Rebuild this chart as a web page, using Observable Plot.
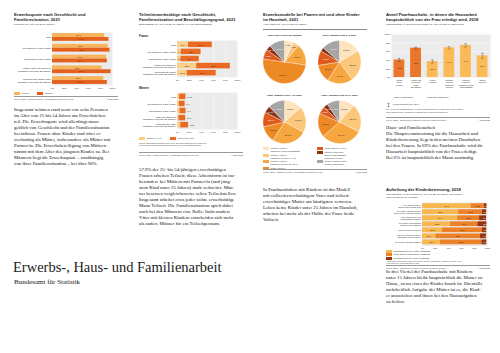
<!DOCTYPE html>
<html lang="de"><head><meta charset="utf-8">
<script src="https://cdn.jsdelivr.net/npm/d3@7"></script>
<script src="https://cdn.jsdelivr.net/npm/@observablehq/plot@0.6"></script>
<style>
html,body{margin:0;padding:0;background:#fff;}
#page{position:relative;width:500px;height:353px;overflow:hidden;background:#fff;font-family:"Liberation Sans",Arial,sans-serif;color:#1a1a1a;}
#page > div{position:absolute;}
.t{font-weight:bold;font-size:4.2px;line-height:5px;white-space:pre;}
.st{font-size:2.5px;line-height:3px;white-space:pre;color:#333;}
.lab{font-weight:bold;font-size:2.8px;}
.src{width:104px;font-size:2.2px;line-height:3px;color:#444;display:flex;justify-content:space-between;border-top:0.3px solid #999;padding-top:1px;}
.p{font-family:"Liberation Serif","Times New Roman",serif;font-size:4.8px;line-height:6px;white-space:pre;color:#111;}
.leg{font-size:2.4px;line-height:3px;color:#333;}
.leg .it{display:inline-flex;align-items:center;margin-right:8px;}
.leg .row{display:flex;align-items:flex-start;margin-bottom:0.6px;white-space:pre;}
.sw{display:inline-block;width:6px;height:3px;margin-right:1.5px;flex:none;}
.note{font-size:2.1px;line-height:2.7px;color:#444;white-space:pre;}
.big{font-family:"Liberation Serif","Times New Roman",serif;font-size:14.5px;line-height:16px;white-space:nowrap;color:#222;}
.bigsub{font-family:"Liberation Serif","Times New Roman",serif;font-size:7px;line-height:8px;white-space:nowrap;color:#222;}
.rule{height:0;border-top:0.4px solid #888;width:104px;}
svg{display:block;overflow:visible;}
</style></head>
<body><div id="page"></div>
<script>
// ---------------- DATA ----------------
const prozentTicks = [0, 20, 40, 60, 80, 100];

// Erwerbsquote
const erwKategorien = ["Total", "mit Partner/in, ohne Kinder", "alleinlebend, ohne Kinder",
  "Mütter/Väter mit Partner/in\n(jüngstes Kind unter 25 Jahren)", "alleinlebende Mütter/Väter\n(jüngstes Kind unter 25 Jahren)"];
const erwGeschlecht = ["Frauen", "Männer"];
const erwFrauen = [86.8, 92.6, 90.1, 82.4, 85.6];
const erwMaenner = [94.0, 95.8, 91.4, 97.7, 91.3];

// Teilzeit
const tzTypen = ["Teilzeit 1–49%", "Teilzeit 50–89%"];
const tzKategorienFrauen = ["Total", "mit Partner/in, ohne Kinder", "alleinlebend, ohne Kinder",
  "Mütter mit Partner/in\n(jüngstes Kind unter 25 Jahren)", "alleinlebende Mütter\n(jüngstes Kind unter 25 Jahren)"];
const tzKategorienMaenner = ["Total", "mit Partner/in, ohne Kinder", "alleinlebend, ohne Kinder",
  "Väter mit Partner/in\n(jüngstes Kind unter 25 Jahren)", "alleinlebende Väter\n(jüngstes Kind unter 25 Jahren)"];
const tzFrauen1bis49 = [18.4, 6.4, 5.8, 32.0, 16.2];
const tzFrauen50bis89 = [39.5, 32.9, 30.4, 56.0, 48.3];
const tzMaenner1bis49 = [3.6, 3.1, 4.2, 2.6, 5.4];
const tzMaenner50bis89 = [10.5, 9.6, 9.9, 10.9, 13.1];

// Erwerbsmodelle (Kuchen)
const pieTypen = ["Partner Vollzeit,\nPartnerin nicht erwerbstätig", "Partner Vollzeit,\nPartnerin Teilzeit 1–49%",
  "Partner Vollzeit,\nPartnerin Teilzeit 50–89%", "beide Vollzeit", "beide Teilzeit 1–89%",
  "Partner nicht oder\nTeilzeit erwerbstätig,\nPartnerin Vollzeit", "andere Modelle oder\nModell unbekannt"];
const pieTitel = ["Paare ohne Kinder im Haushalt", "Paare, jüngstes Kind 0–3 Jahre",
  "Paare, jüngstes Kind 4–12 Jahre", "Paare, jüngstes Kind 13–24 Jahre"];
const pieOhneKinder = [6.8, 4.5, 16.0, 50.0, 7.2, 3.9, 11.6];
const pieKind0bis3 = [16.5, 23.5, 19.0, 13.5, 11.0, 3.0, 13.5];
const pieKind4bis12 = [13.5, 19.5, 26.0, 12.5, 11.0, 5.0, 12.5];
const pieKind13bis24 = [11.5, 21.0, 31.0, 18.0, 5.5, 3.5, 9.5];

// Hausarbeit
const hausKategorien = ["Paare\nohne\nKinder", "Paare mit\nKind(ern)\nunter\n25 Jahren", "beide\nVollzeit",
  "Partner\nVollzeit,\nPartnerin\nTeilzeit", "Partner\nVollzeit,\nPartnerin nicht\nerwerbstätig", "beide\nTeilzeit"];
const hausGruppen = ["Nach Haushaltstyp", "Nach Haushaltstyp", "Nach Erwerbsmodell", "Nach Erwerbsmodell", "Nach Erwerbsmodell", "Nach Erwerbsmodell"];
const hausWerte = [40.8, 68.2, 37.3, 69.1, 74.6, 50.4];
const hausKI = [3.5, 2.0, 3.8, 2.9, 3.8, 6.0];

// Kinderbetreuung
const betrKategorien = ["zu Hause bleiben,\nwenn Kinder krank sind", "die Kinder anziehen oder\nihnen beim Anziehen helfen",
  "den Kindern bei den\nHausaufgaben helfen", "die Kinder irgendwohin\nbringen oder abholen", "mit den Kindern spielen",
  "mit den Kindern Freizeit-\naktivitäten unternehmen", "die Kinder ins Bett bringen"];
const betrTypen = ["hauptsächlich die Mutter zuständig", "beide Eltern gemeinsam zuständig", "hauptsächlich der Vater zuständig"];
const betrMutter = [74.7, 55.6, 54.1, 43.3, 30.2, 20.4, 27.8];
const betrBeide = [20.3, 36.3, 33.8, 41.9, 62.1, 68.9, 63.5];
const betrVater = [4.2, 6.8, 10.6, 13.8, 6.5, 9.3, 7.6];

// ---------------- STYLE ----------------
const SANS = '"Liberation Sans", Arial, sans-serif';
const BG = "#ebebeb";
const colErw = ["#f8b45a", "#e3601d"];
const colTz = ["#fbcf8a", "#ea6a22"];
const colPie = ["#fde4bd", "#fbc77b", "#f6a73f", "#ee8a25", "#df5a1d", "#8c3214", "#a5a5a5"];
const colHaus = ["#e9762a", "#fbba58"];
const colBetr = ["#f8b74f", "#ec8129", "#973410"];
const pieDunkel = new Set([pieTypen[4], pieTypen[5], pieTypen[6]]);

const page = document.getElementById("page");
function place(node, left, top) {
  const d = document.createElement("div");
  d.style.left = left + "px"; d.style.top = top + "px";
  d.appendChild(node);
  page.appendChild(d);
  return d;
}
function html(str, left, top, cls) {
  const d = document.createElement("div");
  d.style.left = left + "px"; d.style.top = top + "px"; d.className = cls || "";
  d.innerHTML = str; page.appendChild(d); return d;
}
function source(text, left, top) {
  html(`<span>${text}</span><span>© BFS 2022</span>`, left, top, "src");
}
function legendInline(labels, colors, left, top) {
  html(labels.map((l, i) => `<span class="it"><span class="sw" style="background:${colors[i]}"></span>${l}</span>`).join(""), left, top, "leg");
}
function legendRows(labels, colors, left, top) {
  html(labels.map((l, i) => `<div class="row"><span class="sw" style="background:${colors[i]}"></span><span>${l}</span></div>`).join(""), left, top, "leg");
}
const baseStyle = (fs) => ({fontSize: fs, fontFamily: SANS, color: "#222", background: "transparent", overflow: "visible"});

// ---------------- CHART 1: Erwerbsquote ----------------
function chartErwerb() {
  const W = 104, H = 60, mt = 1, mb = 6, pi = 0.28, po = 0.1, n = erwKategorien.length;
  const step = (H - mt - mb) / (n - pi + 2 * po), bw = step * (1 - pi), half = bw / 2;
  const rows = erwKategorien.map((c, i) => ({cat: c, f: erwFrauen[i], m: erwMaenner[i]}));
  return Plot.plot({
    width: W, height: H, marginTop: mt, marginBottom: mb, marginLeft: 38, marginRight: 6,
    style: baseStyle("2.4px"),
    x: {domain: [0, 100], ticks: prozentTicks, tickFormat: d => d + "%", label: null, tickSize: 0, tickPadding: 1.5},
    y: {domain: erwKategorien, label: null, tickSize: 0, tickPadding: 1.5, paddingInner: pi, paddingOuter: po, round: false},
    marks: [
      Plot.frame({fill: BG, stroke: null}),
      Plot.ruleX(prozentTicks.slice(1, -1), {stroke: "#fff", strokeWidth: 0.4}),
      Plot.barX(rows, {x: "f", y: "cat", fill: colErw[0], insetBottom: half}),
      Plot.barX(rows, {x: "m", y: "cat", fill: colErw[1], insetTop: half}),
      Plot.text(rows, {x: d => d.f / 2, y: "cat", dy: -bw / 4, text: d => d.f.toFixed(1), fill: "#222"}),
      Plot.text(rows, {x: d => d.m / 2, y: "cat", dy: bw / 4, text: d => d.m.toFixed(1), fill: "#222"})
    ]
  });
}

// ---------------- CHART 2: Teilzeit ----------------
function chartTeilzeit(cats, a, b, inside) {
  const rows = [];
  cats.forEach((c, i) => { rows.push({cat: c, typ: tzTypen[0], v: a[i]}); rows.push({cat: c, typ: tzTypen[1], v: b[i]}); });
  const totals = cats.map((c, i) => ({cat: c, tot: a[i] + b[i], v: b[i]}));
  const marks = [
    Plot.frame({fill: BG, stroke: null}),
    Plot.ruleX(prozentTicks.slice(1, -1), {stroke: "#fff", strokeWidth: 0.4}),
    Plot.barX(rows, Plot.stackX({x: "v", y: "cat", fill: "typ"}))
  ];
  if (inside) marks.push(Plot.text(rows, Plot.stackX({x: "v", y: "cat", z: "typ", text: d => d.v.toFixed(1), fill: "#222"})));
  else marks.push(Plot.text(totals, {x: "tot", y: "cat", dx: 1.2, textAnchor: "start", text: d => d.v.toFixed(1), fill: "#222"}));
  return Plot.plot({
    width: 104, height: 44, marginTop: 1, marginBottom: 6, marginLeft: 38, marginRight: 6,
    style: baseStyle("2.4px"),
    x: {domain: [0, 100], ticks: prozentTicks, tickFormat: d => d + "%", label: null, tickSize: 0, tickPadding: 1.5},
    y: {domain: cats, label: null, tickSize: 0, tickPadding: 1.5, padding: 0.22, round: false},
    color: {domain: tzTypen, range: colTz},
    marks
  });
}

// ---------------- CHART 3: Kuchen ----------------
function chartPie(title, values) {
  const arcs = d3.pie().sort(null).value(d => d)(values);
  const pts = [], labels = [];
  arcs.forEach((a, i) => {
    const typ = pieTypen[i];
    const n = Math.max(2, Math.ceil((a.endAngle - a.startAngle) / 0.04));
    pts.push({typ, x: 0, y: 0});
    for (let k = 0; k <= n; k++) {
      const ang = a.startAngle + (a.endAngle - a.startAngle) * k / n;
      pts.push({typ, x: Math.sin(ang), y: Math.cos(ang)});
    }
    pts.push({typ, x: 0, y: 0});
    const mid = (a.startAngle + a.endAngle) / 2, rr = a.value < 8 ? 0.8 : 0.64;
    labels.push({typ, v: a.value, x: rr * Math.sin(mid), y: rr * Math.cos(mid)});
  });
  const shown = labels.filter(d => d.v >= 3.5);
  return Plot.plot({
    width: 54, height: 58, marginTop: 13, marginBottom: 2, marginLeft: 5.5, marginRight: 5.5,
    style: baseStyle("2.3px"),
    x: {domain: [-1, 1], axis: null}, y: {domain: [-1, 1], axis: null},
    color: {domain: pieTypen, range: colPie},
    marks: [
      Plot.line(pts, {x: "x", y: "y", z: "typ", fill: "typ", stroke: "#fff", strokeWidth: 0.35, curve: "linear"}),
      Plot.text(shown.filter(d => !pieDunkel.has(d.typ)), {x: "x", y: "y", text: d => d.v.toFixed(1) + "%", fill: "#222"}),
      Plot.text(shown.filter(d => pieDunkel.has(d.typ)), {x: "x", y: "y", text: d => d.v.toFixed(1) + "%", fill: "#fff"}),
      Plot.text([title], {frameAnchor: "top", dy: -6.5, text: d => d, fontWeight: "bold", fill: "#222"})
    ]
  });
}

// ---------------- CHART 4: Hausarbeit ----------------
function chartHaus() {
  const W = 106, ml = 7, mr = 0, pi = 0.35, po = 0.15, n = hausKategorien.length;
  const step = (W - ml - mr) / (n - pi + 2 * po), bw = step * (1 - pi);
  const rows = hausKategorien.map((c, i) => ({cat: c, grp: hausGruppen[i], v: hausWerte[i], ki: hausKI[i]}));
  const gruppen = Array.from(new Set(hausGruppen)).map(g => ({g, first: hausKategorien[hausGruppen.indexOf(g)]}));
  return Plot.plot({
    width: W, height: 70, marginTop: 2, marginBottom: 25, marginLeft: ml, marginRight: mr,
    style: baseStyle("2.3px"),
    x: {domain: hausKategorien, label: null, tickSize: 0, tickPadding: 2, paddingInner: pi, paddingOuter: po, round: false},
    y: {domain: [0, 100], ticks: prozentTicks, tickFormat: d => d + "%", label: null, tickSize: 0, tickPadding: 1.2},
    color: {domain: ["Nach Haushaltstyp", "Nach Erwerbsmodell"], range: colHaus},
    marks: [
      Plot.frame({fill: BG, stroke: null}),
      Plot.ruleY(prozentTicks.slice(1, -1), {stroke: "#fff", strokeWidth: 0.4}),
      Plot.barY(rows, {x: "cat", y: "v", fill: "grp"}),
      Plot.ruleX(rows, {x: "cat", y1: d => d.v - d.ki, y2: d => d.v + d.ki, stroke: "#333", strokeWidth: 0.35}),
      Plot.tickY(rows, {x: "cat", y: d => d.v + d.ki, stroke: "#333", strokeWidth: 0.35, insetLeft: bw * 0.38, insetRight: bw * 0.38}),
      Plot.tickY(rows, {x: "cat", y: d => d.v - d.ki, stroke: "#333", strokeWidth: 0.35, insetLeft: bw * 0.38, insetRight: bw * 0.38}),
      Plot.text(rows, {x: "cat", y: d => d.v / 2, text: d => d.v.toFixed(1), fill: "#222"}),
      Plot.text(gruppen, {x: "first", frameAnchor: "bottom", dy: 20, dx: -bw / 2, textAnchor: "start", text: "g", fill: "#333"})
    ]
  });
}

// ---------------- CHART 5: Kinderbetreuung ----------------
function chartBetreuung() {
  const rows = [];
  betrKategorien.forEach((c, i) => {
    rows.push({cat: c, typ: betrTypen[0], v: betrMutter[i]});
    rows.push({cat: c, typ: betrTypen[1], v: betrBeide[i]});
    rows.push({cat: c, typ: betrTypen[2], v: betrVater[i]});
  });
  return Plot.plot({
    width: 104, height: 50, marginTop: 1, marginBottom: 5.5, marginLeft: 36, marginRight: 3,
    style: baseStyle("2.2px"),
    x: {domain: [0, 100], ticks: prozentTicks, tickFormat: d => d + "%", label: null, tickSize: 0, tickPadding: 1.2},
    y: {domain: betrKategorien, label: null, tickSize: 0, tickPadding: 1.5, padding: 0.2, round: false},
    color: {domain: betrTypen, range: colBetr},
    marks: [
      Plot.frame({fill: BG, stroke: null}),
      Plot.ruleX(prozentTicks.slice(1, -1), {stroke: "#fff", strokeWidth: 0.4}),
      Plot.barX(rows, Plot.stackX({x: "v", y: "cat", fill: "typ"})),
      Plot.text(rows.filter(d => d.typ !== betrTypen[2]), Plot.stackX({x: "v", y: "cat", z: "typ", text: d => d.v.toFixed(1), fill: "#222"})),
      Plot.text(rows.filter(d => d.typ === betrTypen[2]), {x: 100, y: "cat", dx: -2.5, text: d => d.v.toFixed(1), fill: "#fff"})
    ]
  });
}

// ---------------- LAYOUT ----------------
// Column 1
html("Erwerbsquote nach Geschlecht und\nFamiliensituation, 2021", 14, 12, "t");
html("Personen im Alter von 25–54 Jahren", 14, 23, "st");
place(chartErwerb(), 14, 31);
legendInline(erwGeschlecht, colErw, 14, 91.5);
source("Quelle: BFS – Schweizerische Arbeitskräfteerhebung (SAKE)", 14, 96);
html("Insgesamt nehmen rund neun von zehn Personen\nim Alter von 25 bis 54 Jahren am Erwerbsleben\nteil. Die Erwerbsquote wird allerdings mass-\ngeblich von Geschlecht und der Familiensituation\nbeeinflusst. Frauen ohne Kinder sind öfter er-\nwerbstätig als Mütter, insbesondere als Mütter mit\nPartner/in. Die Erwerbsbeteiligung von Müttern\nnimmt mit dem Alter des jüngsten Kindes zu. Bei\nMännern liegt die Erwerbsquote – unabhängig\nvon ihrer Familiensituation – bei über 90%.", 14, 106.5, "p");

// Column 2
html("Teilzeiterwerbstätige nach Geschlecht,\nFamiliensituation und Beschäftigungsgrad, 2021", 139, 12, "t");
html("Erwerbstätige im Alter von 25–54 Jahren, in % der Erwerbstätigen", 139, 23, "st");
html("Frauen", 139, 34, "lab");
place(chartTeilzeit(tzKategorienFrauen, tzFrauen1bis49, tzFrauen50bis89, true), 139, 38.5);
html("Männer", 139, 86, "lab");
place(chartTeilzeit(tzKategorienMaenner, tzMaenner1bis49, tzMaenner50bis89, false), 139, 91);
legendInline(tzTypen, colTz, 139, 137);
html("Teilzeit: Beschäftigungsgrad unter 90%. Bei Erwerbstätigen mit mehreren\nStellen wird der Beschäftigungsgrad aller Stellen zusammengezählt.", 139, 141.5, "note");
source("Quelle: BFS – Schweizerische Arbeitskräfteerhebung (SAKE)", 139, 152);
html("57.9% der 25- bis 54-jährigen erwerbstätigen\nFrauen arbeiten Teilzeit; diese Arbeitsform ist ins-\nbesondere bei Müttern mit Partner/in (und jüng-\nstem Kind unter 25 Jahren) stark verbreitet. Män-\nner besetzen vergleichsweise selten Teilzeitstellen:\nInsgesamt arbeitet etwa jeder siebte erwerbstätige\nMann Teilzeit. Die Familiensituation spielt dabei\nauch bei den Männern eine Rolle: Insbesondere\nVäter mit kleinen Kindern entscheiden sich mehr\nals andere Männer für ein Teilzeitpensum.", 139, 166.5, "p");

// Column 3
html("Erwerbsmodelle bei Paaren mit und ohne Kinder\nim Haushalt, 2021", 263, 12, "t");
html("Anteil Paare im Alter von 25–54 Jahren", 263, 23, "st");
html("", 263, 28.5, "rule");
place(chartPie(pieTitel[0], pieOhneKinder), 257, 27);
place(chartPie(pieTitel[1], pieKind0bis3), 312, 27);
place(chartPie(pieTitel[2], pieKind4bis12), 257, 87);
place(chartPie(pieTitel[3], pieKind13bis24), 312, 87);
legendRows(pieTypen.slice(0, 4), colPie.slice(0, 4), 263, 147);
legendRows(pieTypen.slice(4), colPie.slice(4), 317, 147);
source("Quelle: BFS – Schweizerische Arbeitskräfteerhebung (SAKE)", 263, 168.5);
html("In Paarhaushalten mit Kindern ist das Modell\nmit vollzeiterwerbstätigem Vater und teilzeit-\nerwerbstätiger Mutter am häufigsten vertreten.\nLeben keine Kinder unter 25 Jahren im Haushalt,\narbeiten bei mehr als der Hälfte der Paare beide\nVollzeit.", 263, 187, "p");

// Column 4
html("Anteil Paarhaushalte, in denen die Hausarbeit\nhauptsächlich von der Frau erledigt wird, 2018", 386, 12, "t");
html("Paarhaushalte, in denen beide Partner im Alter von 25–54 Jahren sind", 386, 23, "st");
place(chartHaus(), 384, 32);
html('<div class="row"><svg width="5" height="4" style="margin-right:1.5px"><line x1="2.5" y1="0.3" x2="2.5" y2="3.7" stroke="#333" stroke-width="0.4"/><line x1="1.3" y1="0.3" x2="3.7" y2="0.3" stroke="#333" stroke-width="0.4"/><line x1="1.3" y1="3.7" x2="3.7" y2="3.7" stroke="#333" stroke-width="0.4"/></svg><span>Vertrauensintervall (95%)</span></div>', 386, 103, "leg");
html("Die Anteile der Paarhaushalte, in denen hauptsächlich der Mann oder beide Partner\ngemeinsam für die Hausarbeit zuständig sind, sind nicht dargestellt.", 386, 108, "note");
source("Quelle: BFS – Erhebung zu Familien und Generationen (EFG)", 386, 116.5);
html("Haus- und Familienarbeit\nDie Hauptverantwortung für die Hausarbeit und\nKinderbetreuung liegt in den meisten Haushalten\nbei den Frauen. In 69% der Paarhaushalte wird die\nHausarbeit hauptsächlich von der Frau erledigt.\nBei 6% ist hauptsächlich der Mann zuständig.", 386, 125, "p");

html("Aufteilung der Kinderbetreuung, 2018", 386, 187, "t");
html("Paarhaushalte, beide Partner im Alter von 25–54 Jahren, mit Kindern\nunter 15 Jahren im Haushalt", 386, 193, "st");
place(chartBetreuung(), 386, 201);
legendRows(betrTypen, colBetr, 386, 249.5);
html("Anmerkung: Das Total ergibt nicht 100%, da die Kategorien «andere Person» und\n«trifft nicht zu» nicht dargestellt sind.", 386, 259.5, "note");
source("Quelle: BFS – Erhebung zu Familien und Generationen (EFG)", 386, 265);
html("In drei Viertel der Paarhaushalte mit Kindern\nunter 15 Jahren bleibt hauptsächlich die Mutter zu\nHause, wenn eines der Kinder krank ist. Ebenfalls\nmehrheitlich Aufgabe der Mütter ist es, die Kind-\ner anzuziehen und ihnen bei den Hausaufgaben\nzu helfen.", 386, 268.5, "p");

// Big title
html("Erwerbs-, Haus- und Familienarbeit", 13, 259, "big");
html("Bundesamt für Statistik", 14, 278, "bigsub");
</script>
</body></html>
